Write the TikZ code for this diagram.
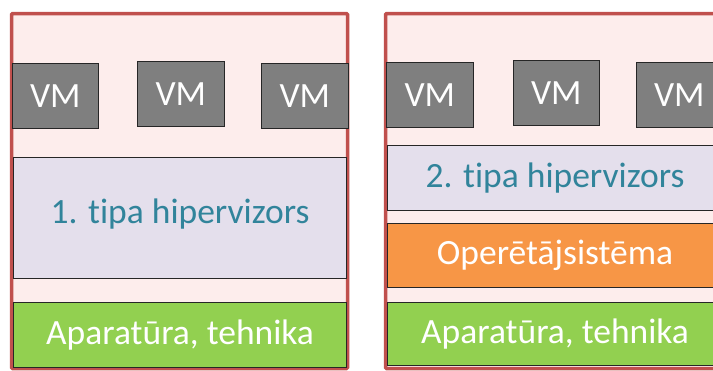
\documentclass[tikz,border=0pt]{standalone}
\usepackage{fontspec}
\setmainfont{Carlito}[Ligatures=NoCommon]
\definecolor{panelfill}{HTML}{FDEDEC}
\definecolor{panelline}{HTML}{C0504D}
\definecolor{vmfill}{HTML}{7F7F7F}
\definecolor{boxline}{HTML}{262626}
\definecolor{hypfill}{HTML}{E4DFEC}
\definecolor{hyptext}{HTML}{31849B}
\definecolor{hwfill}{HTML}{92D050}
\definecolor{osfill}{HTML}{F79646}
\begin{document}
\begin{tikzpicture}[x=1pt,y=-1pt,
  panel/.style={draw=panelline,fill=panelfill,line width=3.5pt,rounded corners=1pt},
  layer/.style={draw=boxline,line width=1.1pt,anchor=north west,inner sep=0pt,
    font=\fontsize{35.5}{42}\selectfont},
  vmbox/.style={layer,fill=vmfill,text=white,minimum width=86.5pt,minimum height=65pt},
  hypbox/.style={layer,fill=hypfill,text=hyptext},
  hwbox/.style={layer,fill=hwfill,text=white},
  osbox/.style={layer,fill=osfill,text=white}]
\useasboundingbox (0,0) rectangle (713,370);

% two stacks, each inside a framed panel
\draw[panel] (11.5,13.5) rectangle (347.5,368.5);
\draw[panel] (385.5,13.5) rectangle (730,368.5);

% left stack: type 1 hypervisor on bare hardware
\node[vmbox] (vmL1) at (11.5,63) {VM};
\node[vmbox] (vmL2) at (137,61) {VM};
\node[vmbox] (vmL3) at (261,63) {VM};
\node[hypbox,minimum width=333pt,minimum height=121pt] (hypL) at (13,157)
  {\raisebox{13pt}{1. tipa hipervizors}};
\node[hwbox,minimum width=333pt,minimum height=65pt] (hwL) at (13,302)
  {Aparatūra, tehnika};

% right stack: type 2 hypervisor on a host operating system
\node[vmbox] (vmR1) at (386,62) {VM};
\node[vmbox] (vmR2) at (512.5,60) {VM};
\node[vmbox] (vmR3) at (635.5,62) {VM};
\node[hypbox,minimum width=335pt,minimum height=65pt] (hypR) at (387,145)
  {2. tipa hipervizors};
\node[osbox,minimum width=335pt,minimum height=64pt] (osR) at (387,223)
  {Operētājsistēma};
\node[hwbox,minimum width=335pt,minimum height=63pt] (hwR) at (387,302)
  {Aparatūra, tehnika};
\end{tikzpicture}
\end{document}
